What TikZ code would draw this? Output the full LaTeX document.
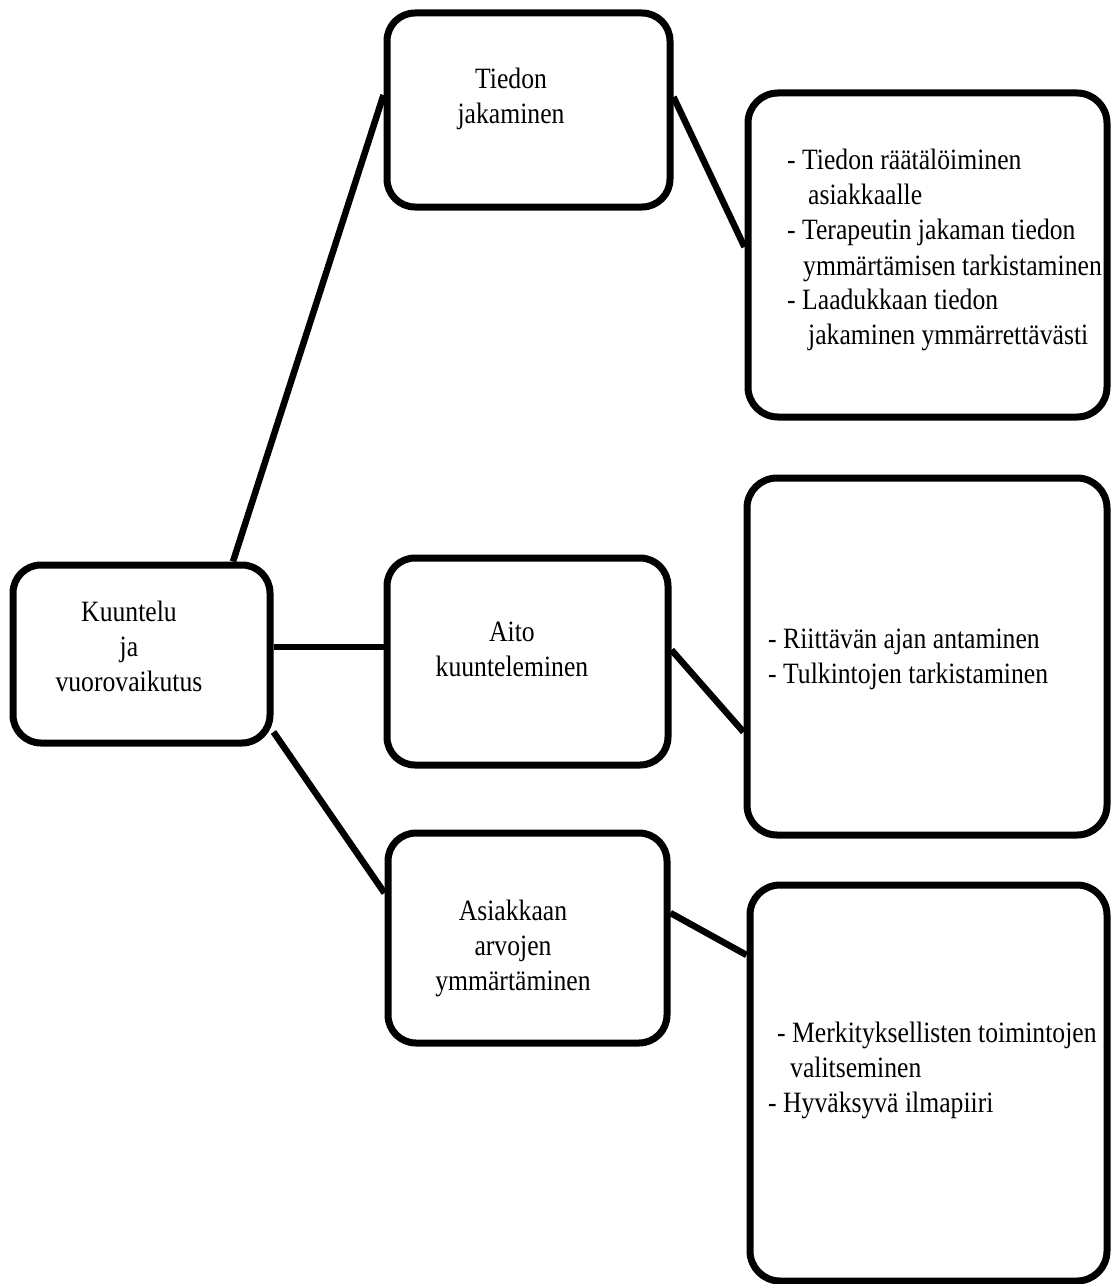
\documentclass[tikz,border=0pt]{standalone}
\usepackage{fontspec}
\setmainfont{Liberation Serif}[FakeStretch=0.87]
\newcommand{\linesc}[1]{\begin{tabular}[t]{@{}c@{}}#1\end{tabular}}
\newcommand{\linesl}[1]{\begin{tabular}[t]{@{}l@{}}#1\end{tabular}}
\begin{document}
\begin{tikzpicture}[x=1pt,y=-1pt,
  box/.style={draw=black, line width=7pt, rounded corners=28pt, inner sep=0pt, fill=white},
  conn/.style={draw=black, line width=6.5pt},
  lbl/.style={inner sep=0pt, font=\fontsize{29.5}{35}\selectfont, text=black}]
\useasboundingbox[fill=white] (0,0) rectangle (1111,1284);
% boxes
\node[box, minimum width=257pt, minimum height=178pt] (k) at (141.5,654) {};
\node[box, minimum width=283pt, minimum height=194pt] (t) at (528.5,110) {};
\node[box, minimum width=281pt, minimum height=207pt] (a) at (527.5,661.5) {};
\node[box, minimum width=279pt, minimum height=210pt] (s) at (527.5,938) {};
\node[box, minimum width=359pt, minimum height=324pt, rounded corners=30pt] (b1) at (927.5,255) {};
\node[box, minimum width=360pt, minimum height=357pt, rounded corners=30pt] (b2) at (927,656.5) {};
\node[box, minimum width=357pt, minimum height=396pt, rounded corners=30pt] (b3) at (928.5,1083) {};
% connectors
\draw[conn] ([xshift=91.5pt]k.north) -- ([yshift=15pt]t.west);
\draw[conn] ([yshift=7pt]k.east) -- ([yshift=14.5pt]a.west);
\draw[conn] ([yshift=-78pt]k.east) -- ([yshift=45pt]s.west);
\draw[conn] ([yshift=13pt]t.east) -- ([yshift=8pt]b1.west);
\draw[conn] ([yshift=11.5pt]a.east) -- ([yshift=-75.5pt]b2.west);
\draw[conn] ([yshift=25pt]s.east) -- ([yshift=128pt]b3.west);
% texts
\node[lbl, anchor=base] (kt) at (129,621) {\linesc{Kuuntelu\\ja\\vuorovaikutus}};
\node[lbl, anchor=base] (tt) at (511,89) {\linesc{Tiedon\\jakaminen}};
\node[lbl, anchor=base] (at) at (512,641) {\linesc{Aito\\kuunteleminen}};
\node[lbl, anchor=base] (st) at (513,920) {\linesc{Asiakkaan\\arvojen\\ymmärtäminen}};
\node[lbl, anchor=base west] (b1t) at (787,170) {\linesl{- Tiedon räätälöiminen\\\hspace*{21pt}asiakkaalle\\- Terapeutin jakaman tiedon\\\hspace*{16pt}ymmärtämisen tarkistaminen\\- Laadukkaan tiedon\\\hspace*{21pt}jakaminen ymmärrettävästi}};
\node[lbl, anchor=base west] (b2t) at (768,648) {\linesl{- Riittävän ajan antaminen\\- Tulkintojen tarkistaminen}};
\node[lbl, anchor=base west] (b3t) at (768,1042) {\linesl{\hspace*{9pt}- Merkityksellisten toimintojen\\\hspace*{22pt}valitseminen\\- Hyväksyvä ilmapiiri}};
\end{tikzpicture}
\end{document}
